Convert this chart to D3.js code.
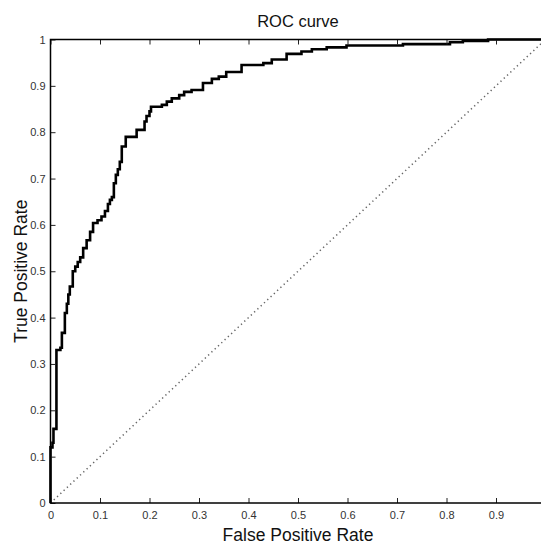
<html>
  <head>
    <meta charset="utf-8" />
    <title>ROC curve</title>
    <script src="https://d3js.org/d3.v7.min.js"></script>
    <style>
      body {
        margin: 0;
        background: #fff;
      }
      text {
        font-family: "Liberation Sans", Arial, sans-serif;
      }
      .axis text {
        font-size: 11px;
        fill: #333;
      }
      .axis line {
        stroke: #222;
      }
    </style>
  </head>
  <body>
    <svg id="chart">
      <g id="diag"></g>
      <g id="curve"></g>
      <g id="x" class="axis"></g>
      <g id="xTop" class="axis"></g>
      <g id="y" class="axis"></g>
      <g id="frame"></g>
      <g id="labels"></g>
    </svg>

    <script>
      // ROC points (start of each step)
      var fpr = [0, 0, 0.004, 0.006, 0.012, 0.02, 0.023, 0.029, 0.033, 0.036,
        0.039, 0.045, 0.05, 0.055, 0.06, 0.066, 0.073, 0.08, 0.086, 0.095,
        0.103, 0.11, 0.116, 0.12, 0.124, 0.128, 0.132, 0.136, 0.14, 0.144,
        0.152, 0.174, 0.19, 0.194, 0.2, 0.203, 0.225, 0.235, 0.245, 0.26,
        0.27, 0.285, 0.308, 0.326, 0.34, 0.355, 0.386, 0.43, 0.447, 0.477,
        0.507, 0.528, 0.558, 0.598, 0.712, 0.807, 0.833, 0.884, 1.0];
      var tpr = [0, 0.12, 0.13, 0.16, 0.33, 0.335, 0.367, 0.41, 0.43, 0.45,
        0.467, 0.5, 0.51, 0.52, 0.53, 0.55, 0.567, 0.585, 0.604, 0.61,
        0.618, 0.63, 0.645, 0.654, 0.66, 0.69, 0.708, 0.72, 0.736, 0.769,
        0.79, 0.805, 0.823, 0.835, 0.845, 0.855, 0.859, 0.866, 0.873, 0.88,
        0.887, 0.891, 0.906, 0.915, 0.92, 0.93, 0.945, 0.949, 0.957, 0.969,
        0.974, 0.979, 0.983, 0.987, 0.99, 0.994, 0.997, 1.0, 1.0];
      var xTickValues = [0, 0.1, 0.2, 0.3, 0.4, 0.5, 0.6, 0.7, 0.8, 0.9];
      var yTickValues = [0, 0.1, 0.2, 0.3, 0.4, 0.5, 0.6, 0.7, 0.8, 0.9, 1];
      var diagonal = [0, 1];

      var width = 541;
      var height = 544;
      var margin = { top: 39.5, left: 50.5, bottom: 41 };
      var plotWidth = 495;
      var plotHeight = height - margin.top - margin.bottom;

      var svg = d3.select("#chart")
        .attr("width", width)
        .attr("height", height);

      var x = d3.scaleLinear()
        .domain([0, 1])
        .range([margin.left, margin.left + plotWidth]);

      var y = d3.scaleLinear()
        .domain([0, 1])
        .range([margin.top + plotHeight, margin.top]);

      var fmt = function(d) { return String(+d.toFixed(1)); };

      // axes, ticks pointing inward
      var xAxis = d3.axisBottom(x).tickValues(xTickValues).tickSize(-5).tickPadding(8).tickFormat(fmt);
      svg.select("#x")
        .attr("transform", "translate(0," + y(0) + ")")
        .call(xAxis)
        .call(function(g) { g.select(".domain").remove(); });

      var xTop = d3.axisTop(x).tickValues(xTickValues).tickSize(-5).tickFormat("");
      svg.select("#xTop")
        .attr("transform", "translate(0," + y(1) + ")")
        .call(xTop)
        .call(function(g) { g.select(".domain").remove(); });

      var yAxis = d3.axisLeft(y).tickValues(yTickValues).tickSize(-5).tickPadding(5).tickFormat(fmt);
      svg.select("#y")
        .attr("transform", "translate(" + x(0) + ",0)")
        .call(yAxis)
        .call(function(g) { g.select(".domain").remove(); });

      // chance line
      svg.select("#diag").append("line")
        .attr("x1", x(diagonal[0])).attr("y1", y(diagonal[0]))
        .attr("x2", x(diagonal[1])).attr("y2", y(diagonal[1]))
        .attr("stroke", "#666")
        .attr("stroke-width", 1.5)
        .attr("stroke-dasharray", "1.3,3.2");

      // ROC curve
      var points = fpr.map(function(f, i) { return [f, tpr[i]]; });
      var line = d3.line()
        .x(function(d) { return x(d[0]); })
        .y(function(d) { return y(d[1]); })
        .curve(d3.curveStepAfter);

      svg.select("#curve").append("path")
        .datum(points)
        .attr("d", line)
        .attr("fill", "none")
        .attr("stroke", "#000")
        .attr("stroke-width", 2.6);

      // frame
      var frame = svg.select("#frame");
      frame.append("rect")
        .attr("x", x(0)).attr("y", y(1))
        .attr("width", x(1) - x(0)).attr("height", y(0) - y(1))
        .attr("fill", "none")
        .attr("stroke", "#000")
        .attr("stroke-width", 1.5);

      // texts
      var labels = svg.select("#labels");
      labels.append("text")
        .attr("x", x(0.5)).attr("y", 27)
        .attr("text-anchor", "middle")
        .attr("font-size", 16.5)
        .attr("fill", "#111")
        .text("ROC curve");

      labels.append("text")
        .attr("x", x(0.5)).attr("y", 541)
        .attr("text-anchor", "middle")
        .attr("font-size", 17.5)
        .attr("fill", "#111")
        .text("False Positive Rate");

      labels.append("text")
        .attr("transform", "translate(27," + y(0.5) + ") rotate(-90)")
        .attr("text-anchor", "middle")
        .attr("font-size", 17.5)
        .attr("fill", "#111")
        .text("True Positive Rate");
    </script>
  </body>
</html>
